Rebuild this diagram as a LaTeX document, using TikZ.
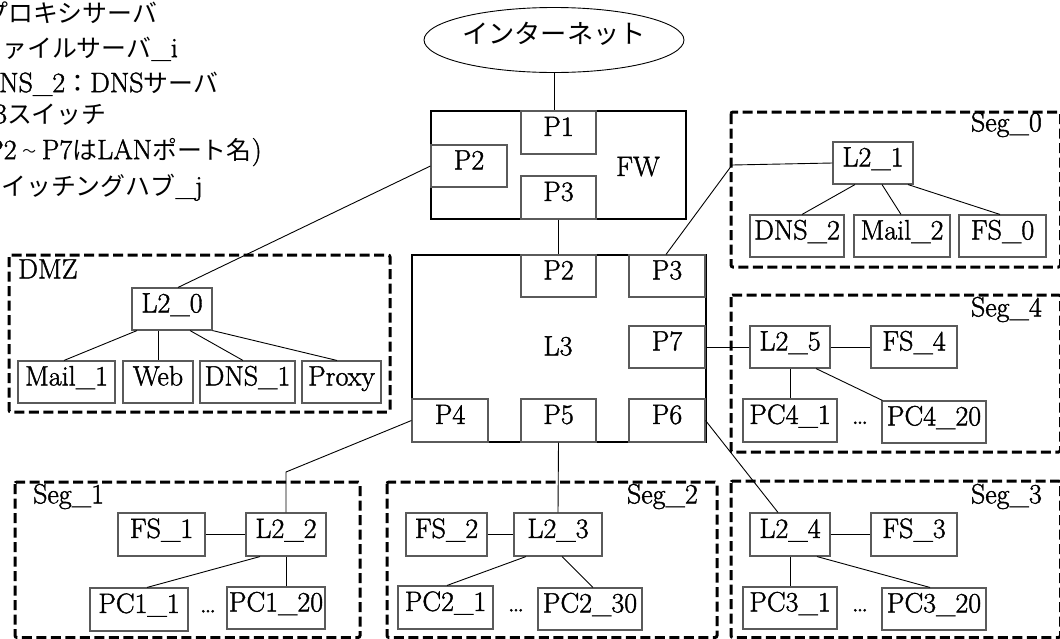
\documentclass[tikz,border=0pt]{standalone}
\usepackage{fontspec}
\usepackage{graphicx}
\setmainfont[FakeBold=1.4]{Latin Modern Roman}
\newfontfamily\jp[Scale=0.89]{Noto Sans CJK JP}
\usetikzlibrary{shapes.geometric}
\definecolor{boxgray}{HTML}{5A5A5A}
\newcommand\lbl{\fontsize{28}{32}\selectfont}
\newcommand\wave{\makebox[0.9em]{\raisebox{0.1em}{\scalebox{0.55}{\jp ～}}}}
\tikzset{
  dev/.style={draw=boxgray, line width=1.1pt, fill=white, inner sep=0pt,
              minimum height=42pt, text height=0.683em, text depth=0pt},
  port/.style={dev, minimum width=75pt},
  unit/.style={draw=black, line width=2pt, inner sep=0pt},
  zone/.style={draw=black, line width=3pt, dash pattern=on 10pt off 4.5pt, rounded corners=2pt},
  link/.style={draw=black, line width=0.9pt},
  tag/.style={inner sep=0pt, text height=0.683em, text depth=0pt},
  legend/.style={anchor=west, inner sep=0pt, text height=0.72em, text depth=0pt},
}
\begin{document}
\begin{tikzpicture}[x=1pt, y=-1pt, font=\lbl]
\useasboundingbox (0,0) rectangle (1060,638);
\clip (0,0) rectangle (1060,638);

% legend
\node[legend] (lg1) at (-17,18.5) {\jp プロキシサーバ};
\node[legend] (lg2) at (2,53.5) {{\jp ァイルサーバ}\_i};
\node[legend] (lg3) at (-1,88.5) {NS\_2{\jp ：}DNS{\jp サーバ}};
\node[legend] (lg4) at (-6,119.5) {3{\jp スイッチ}};
\node[legend] (lg5) at (-14,155.5) {P2\wave P7{\jp は}LAN{\jp ポート名})};
\node[legend] (lg6) at (1,191.5) {{\jp イッチングハブ}\_j};

% internet
\node[draw=black, line width=0.9pt, ellipse, inner sep=0pt, minimum width=208pt, minimum height=65pt,
      text height=0.74em, text depth=0pt] (inet) at (554,40)
      {\jp\fontsize{29.5}{32}\selectfont インターネット};

% firewall
\node[unit, minimum width=255pt, minimum height=108pt] (FW) at (558.5,165) {};
\node[tag] (FWlbl) at (638,172.5) {FW};
\node[port, minimum height=43pt] (FWP1) at (558.5,132.5) {P1};
\node[port, minimum width=76pt] (FWP2) at (469,166) {P2};
\node[port, minimum height=43pt] (FWP3) at (558.5,197.5) {P3};

% L3 switch
\node[unit, minimum width=294pt, minimum height=187pt] (L3) at (559,348.5) {};
\node[tag] (L3lbl) at (558,352) {L3};
\node[port] (L3P2) at (558.5,276) {P2};
\node[port, minimum width=76pt] (L3P3) at (667,276) {P3};
\node[port, minimum width=76pt] (L3P7) at (667,347) {P7};
\node[port, minimum width=76pt, minimum height=43pt] (L3P4) at (450,420.5) {P4};
\node[port, minimum height=43pt] (L3P5) at (558.5,420.5) {P5};
\node[port, minimum width=76pt, minimum height=43pt] (L3P6) at (667,420.5) {P6};

% zones
\draw[zone] (9,255) rectangle (390,412);
\draw[zone] (731,112) rectangle (1060.5,267);
\draw[zone] (731,295) rectangle (1060.5,452);
\draw[zone] (15,482) rectangle (360,637.5);
\draw[zone] (387,482) rectangle (717,637.5);
\draw[zone] (731,481) rectangle (1060.5,637.5);

\node[tag, anchor=west] (zDMZ) at (18,275) {DMZ};
\node[tag, anchor=east] (zS0) at (1042,128) {Seg\_0};
\node[tag, anchor=east] (zS4) at (1042,313) {Seg\_4};
\node[tag, anchor=west] (zS1) at (33,500) {Seg\_1};
\node[tag, anchor=east] (zS2) at (698,500) {Seg\_2};
\node[tag, anchor=east] (zS3) at (1042,500) {Seg\_3};

% DMZ
\node[dev, minimum width=80pt] (L20) at (172,309) {L2\_0};
\node[dev, minimum width=97pt] (Mail1) at (66.5,382) {Mail\_1};
\node[dev, minimum width=70pt] (Web) at (158,382) {Web};
\node[dev, minimum width=95pt] (DNS1) at (247.5,382) {DNS\_1};
\node[dev, minimum width=79pt] (Proxy) at (341.5,382) {Proxy};

% Seg_0
\node[dev, minimum width=80pt] (L21) at (873,163) {L2\_1};
\node[dev, minimum width=94pt] (DNS2) at (797,236) {DNS\_2};
\node[dev, minimum width=96pt] (Mail2) at (902,236) {Mail\_2};
\node[dev, minimum width=87pt] (FS0) at (1002.5,236) {FS\_0};

% Seg_4
\node[dev, minimum width=80pt] (L25) at (790,347) {L2\_5};
\node[dev, minimum width=86pt] (FS4) at (914,347) {FS\_4};
\node[dev, minimum width=94pt, minimum height=43pt] (PC41) at (790,420.5) {PC4\_1};
\node[dev, minimum width=104pt] (PC420) at (934,422) {PC4\_20};
\node[tag] (dots4) at (860,420.5) {\ldots};

% Seg_1
\node[dev, minimum width=87pt, minimum height=43pt] (FS1) at (161.5,534.5) {FS\_1};
\node[dev, minimum width=80pt, minimum height=43pt] (L22) at (286,534.5) {L2\_2};
\node[dev, minimum width=98pt, minimum height=43pt] (PC11) at (139,609.5) {PC1\_1};
\node[dev, minimum width=98pt] (PC120) at (276,608) {PC1\_20};
\node[tag] (dots1) at (208,609) {\ldots};

% Seg_2
\node[dev, minimum width=81pt, minimum height=43pt] (FS2) at (446.5,534.5) {FS\_2};
\node[dev, minimum width=88pt, minimum height=43pt] (L23) at (558,534.5) {L2\_3};
\node[dev, minimum width=95pt, minimum height=43pt] (PC21) at (445.5,607.5) {PC2\_1};
\node[dev, minimum width=104pt] (PC230) at (590,609) {PC2\_30};
\node[tag] (dots2) at (516,608) {\ldots};

% Seg_3
\node[dev, minimum width=80pt, minimum height=43pt] (L24) at (790,534.5) {L2\_4};
\node[dev, minimum width=86pt, minimum height=43pt] (FS3) at (914,534.5) {FS\_3};
\node[dev, minimum width=94pt] (PC31) at (790,608) {PC3\_1};
\node[dev, minimum width=104pt] (PC320) at (934,609) {PC3\_20};
\node[tag] (dots3) at (860,608) {\ldots};

% bends
\coordinate (k0) at (732,165);
\coordinate (k1) at (286,472);

% links
\draw[link] (inet.south) -- (inet.south |- FW.north);
\draw[link] (FWP3.south) -- (L3P2.north);
\draw[link] (FWP2.west) -- ([xshift=6pt]L20.north);
\draw[link] ([xshift=-1pt]L3P3.north) -- (k0) -- (L21.west);
\draw[link] (L3P7.east) -- (L25.west);
\draw[link] (L3P6.east) -- ([xshift=-12pt]L24.north);
\draw[link] (L3P5.south) -- (L23.north);
\draw[link] (L3P4.west) -- (k1) -- (L22.north);

\draw[link] ([xshift=-35pt]L20.south) -- ([xshift=-2.5pt]Mail1.north);
\draw[link] ([xshift=-14pt]L20.south) -- (Web.north);
\draw[link] ([xshift=18pt]L20.south) -- ([xshift=-4.5pt]DNS1.north);
\draw[link] (L20.south east) -- ([xshift=-4.5pt]Proxy.north);

\draw[link] ([xshift=-18pt]L21.south) -- ([xshift=5pt]DNS2.north);
\draw[link] ([xshift=9pt]L21.south) -- ([xshift=-1pt]Mail2.north);
\draw[link] ([xshift=35pt]L21.south) -- ([xshift=-2.5pt]FS0.north);

\draw[link] (L25.east) -- (FS4.west);
\draw[link] (L25.south) -- (PC41.north);
\draw[link] ([xshift=26pt]L25.south) -- ([xshift=1pt]PC420.north west);

\draw[link] (FS1.east) -- (L22.west);
\draw[link] ([xshift=-26pt]L22.south) -- ([xshift=8pt]PC11.north);
\draw[link] (L22.south) -- (L22.south |- PC120.north);

\draw[link] (FS2.east) -- (L23.west);
\draw[link] ([xshift=-32pt]L23.south) -- ([xshift=1.5pt]PC21.north);
\draw[link] ([xshift=4pt]L23.south) -- ([xshift=3pt]PC230.north);

\draw[link] (L24.east) -- (FS3.west);
\draw[link] (L24.south) -- (PC31.north);
\draw[link] ([xshift=27pt]L24.south) -- ([xshift=-4pt]PC320.north);
\end{tikzpicture}
\end{document}
